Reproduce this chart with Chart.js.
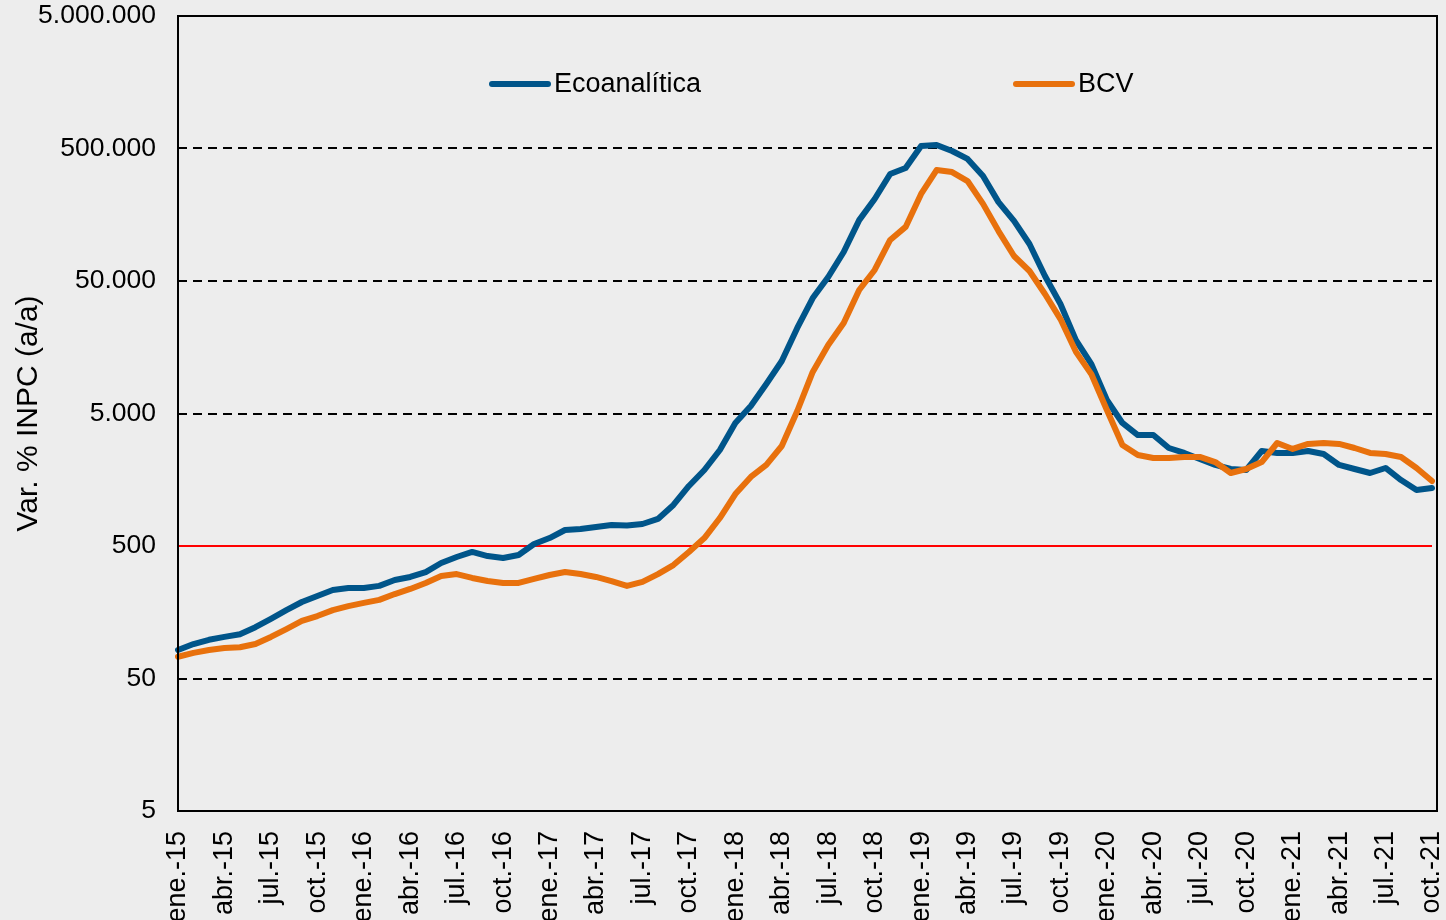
<!DOCTYPE html>
<html>
<head>
<meta charset="utf-8">
<script src="https://cdn.jsdelivr.net/npm/chart.js@4"></script>
<style>
  html, body { margin: 0; padding: 0; background: #ededed; }
  #wrap { width: 1446px; height: 920px; }
</style>
</head>
<body>
<div id="wrap"><canvas id="chart"></canvas></div>
<script>
// meses ene-15 .. oct-21
const meses = ["ene.", "feb.", "mar.", "abr.", "may.", "jun.", "jul.", "ago.", "sep.", "oct.", "nov.", "dic."];
const labels = [];
for (let y = 15; y <= 21; y++) {
  for (let m = 0; m < 12; m++) {
    if (y === 21 && m > 9) break;
    labels.push(meses[m] + "-" + y);
  }
}

const ecoanalitica = [
  82, 91, 98, 103, 108, 122, 141, 164, 189, 210, 233, 241,
  241, 250, 277, 292, 318, 372, 413, 451, 420, 406, 428, 518,
  574, 660, 672, 696, 720, 714, 733, 800, 1020, 1419, 1873, 2652,
  4240, 5696, 8350, 12450, 22100, 37200, 53600, 82750, 144000, 208000, 321000, 356000,
  522000, 532000, 479000, 417000, 310000, 197000, 142000, 95100, 54600, 33500, 17900, 11800,
  6320, 4240, 3440, 3440, 2745, 2520, 2270, 2045, 1906, 1873, 2606, 2520,
  2520, 2606, 2474, 2045, 1906, 1778, 1940, 1574, 1323, 1370
];

const bcv = [
  73, 78, 82, 85, 86, 91, 103, 118, 136, 148, 164, 176,
  186, 196, 217, 237, 263, 297, 307, 287, 272, 263, 263, 282,
  302, 318, 307, 292, 272, 250, 268, 307, 359, 451, 574, 813,
  1234, 1659, 2045, 2842, 5222, 10290, 16440, 24100, 42760, 60550, 102000, 128000,
  227000, 344000, 332000, 284000, 191000, 119000, 77200, 59500, 39900, 25800, 14600, 9900,
  5315, 2890, 2430, 2310, 2310, 2350, 2350, 2150, 1778, 1906, 2150, 2995,
  2700, 2945, 2995, 2945, 2745, 2520, 2474, 2350, 1940, 1548
];

const umbral = 500;
const yTicks = [5, 50, 500, 5000, 50000, 500000, 5000000];
const yTickLabels = ["5", "50", "500", "5.000", "50.000", "500.000", "5.000.000"];

const AZUL = "#00558a";
const NARANJA = "#e8710d";
const FONT = "'Liberation Sans', Arial, sans-serif";

// fondo + marco del area de grafico (el marco sobresale un poco a la derecha)
const fondoPlugin = {
  id: "fondo",
  beforeDraw(chart) {
    const ctx = chart.ctx;
    ctx.save();
    ctx.fillStyle = "#ededed";
    ctx.fillRect(0, 0, chart.width, chart.height);
    ctx.restore();
  },
  afterDatasetsDraw(chart) {
    const { ctx, chartArea: a } = chart;
    ctx.save();
    ctx.strokeStyle = "#000";
    ctx.lineWidth = 2;
    ctx.strokeRect(a.left, a.top, a.right + 5 - a.left, a.bottom - a.top);
    ctx.restore();
  }
};

// leyenda dentro del grafico
const leyendaPlugin = {
  id: "leyenda",
  afterDraw(chart) {
    const ctx = chart.ctx;
    const items = [
      { x: 492, text: "Ecoanalítica", color: AZUL },
      { x: 1016, text: "BCV", color: NARANJA }
    ];
    ctx.save();
    ctx.font = "27px " + FONT;
    ctx.textBaseline = "middle";
    items.forEach(it => {
      ctx.strokeStyle = it.color;
      ctx.lineWidth = 6;
      ctx.lineCap = "round";
      ctx.beginPath();
      ctx.moveTo(it.x, 84);
      ctx.lineTo(it.x + 56, 84);
      ctx.stroke();
      ctx.fillStyle = "#000";
      ctx.fillText(it.text, it.x + 62, 85);
    });
    ctx.restore();
  }
};

new Chart(document.getElementById("chart"), {
  type: "line",
  data: {
    labels: labels,
    datasets: [
      {
        label: "BCV",
        data: bcv,
        borderColor: NARANJA,
        borderWidth: 6,
        pointRadius: 0,
        tension: 0,
        borderCapStyle: "round",
        borderJoinStyle: "round",
        order: 0
      },
      {
        label: "Ecoanalítica",
        data: ecoanalitica,
        borderColor: AZUL,
        borderWidth: 6,
        pointRadius: 0,
        tension: 0,
        borderCapStyle: "round",
        borderJoinStyle: "round",
        order: 1
      },
      {
        label: "umbral",
        data: labels.map(() => umbral),
        borderColor: "#ff0000",
        borderWidth: 2,
        pointRadius: 0,
        order: 2
      }
    ]
  },
  options: {
    responsive: true,
    maintainAspectRatio: false,
    animation: false,
    layout: { padding: { top: 16, right: 14, left: 0, bottom: 0 } },
    plugins: {
      legend: { display: false },
      tooltip: { enabled: false }
    },
    scales: {
      x: {
        type: "category",
        offset: false,
        grid: { display: false },
        border: { display: false },
        afterFit(scale) {
          scale.height = 109;
          scale.paddingLeft = 0;
          scale.paddingRight = 0;
        },
        ticks: {
          autoSkip: false,
          maxRotation: 90,
          minRotation: 90,
          padding: 12,
          color: "#000",
          font: { family: FONT, size: 27 },
          callback: (v, i) => (i % 3 === 0 ? labels[i] : null)
        }
      },
      y: {
        type: "logarithmic",
        min: 5,
        max: 5000000,
        afterBuildTicks(scale) {
          scale.ticks = yTicks.map(v => ({ value: v }));
        },
        afterFit(scale) {
          scale.width = 178;
          scale.paddingTop = 0;
          scale.paddingBottom = 0;
        },
        border: { display: false, dash: [9, 6] },
        grid: {
          drawTicks: false,
          lineWidth: 2,
          color: ctx => (ctx.index === 0 || ctx.index === yTicks.length - 1 ? "rgba(0,0,0,0)" : "#000")
        },
        ticks: {
          padding: 22,
          color: "#000",
          font: { family: FONT, size: 26.5 },
          callback: (v, i) => yTickLabels[i]
        },
        title: {
          display: true,
          text: "Var. % INPC (a/a)",
          color: "#000",
          font: { family: FONT, size: 30 },
          padding: { top: 11, bottom: 0 }
        }
      }
    }
  },
  plugins: [fondoPlugin, leyendaPlugin]
});
</script>
</body>
</html>
